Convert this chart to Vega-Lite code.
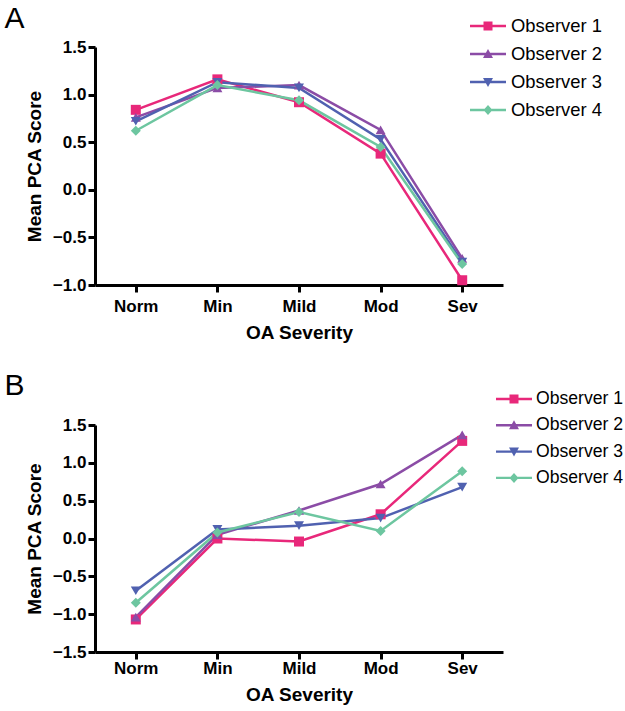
{
  "$schema": "https://vega.github.io/schema/vega-lite/v6.json",
  "padding": {"left": 4, "top": 4, "right": 0, "bottom": 5},
  "background": "white",
  "config": {
    "view": {"stroke": null},
    "font": "Liberation Sans",
    "axis": {"domainColor": "black", "domainWidth": 3, "tickColor": "black", "tickWidth": 3, "tickSize": 7, "labelColor": "black", "labelFont": "Liberation Sans", "labelFontWeight": "bold", "labelFontSize": 17, "titleFont": "Liberation Sans", "titleFontSize": 19, "titleFontWeight": "bold", "titleColor": "black", "grid": false},
    "legend": {"orient": "none", "labelFont": "Liberation Sans", "labelColor": "black", "symbolSize": 400, "symbolStrokeWidth": 0, "padding": 0},
    "title": {"fontSize": 30, "fontWeight": "normal", "anchor": "start", "frame": "bounds", "color": "black", "font": "Liberation Sans"}
  },
  "datasets": {
    "a": [
      {"severity": "Norm", "observer": "Observer 1", "score": 0.84},
      {"severity": "Norm", "observer": "Observer 2", "score": 0.76},
      {"severity": "Norm", "observer": "Observer 3", "score": 0.72},
      {"severity": "Norm", "observer": "Observer 4", "score": 0.62},
      {"severity": "Min", "observer": "Observer 1", "score": 1.16},
      {"severity": "Min", "observer": "Observer 2", "score": 1.07},
      {"severity": "Min", "observer": "Observer 3", "score": 1.13},
      {"severity": "Min", "observer": "Observer 4", "score": 1.10},
      {"severity": "Mild", "observer": "Observer 1", "score": 0.92},
      {"severity": "Mild", "observer": "Observer 2", "score": 1.10},
      {"severity": "Mild", "observer": "Observer 3", "score": 1.07},
      {"severity": "Mild", "observer": "Observer 4", "score": 0.94},
      {"severity": "Mod", "observer": "Observer 1", "score": 0.38},
      {"severity": "Mod", "observer": "Observer 2", "score": 0.63},
      {"severity": "Mod", "observer": "Observer 3", "score": 0.53},
      {"severity": "Mod", "observer": "Observer 4", "score": 0.45},
      {"severity": "Sev", "observer": "Observer 1", "score": -0.95},
      {"severity": "Sev", "observer": "Observer 2", "score": -0.72},
      {"severity": "Sev", "observer": "Observer 3", "score": -0.76},
      {"severity": "Sev", "observer": "Observer 4", "score": -0.78}
    ],
    "b": [
      {"severity": "Norm", "observer": "Observer 1", "score": -1.07},
      {"severity": "Norm", "observer": "Observer 2", "score": -1.04},
      {"severity": "Norm", "observer": "Observer 3", "score": -0.69},
      {"severity": "Norm", "observer": "Observer 4", "score": -0.85},
      {"severity": "Min", "observer": "Observer 1", "score": 0.0},
      {"severity": "Min", "observer": "Observer 2", "score": 0.05},
      {"severity": "Min", "observer": "Observer 3", "score": 0.12},
      {"severity": "Min", "observer": "Observer 4", "score": 0.08},
      {"severity": "Mild", "observer": "Observer 1", "score": -0.04},
      {"severity": "Mild", "observer": "Observer 2", "score": 0.37},
      {"severity": "Mild", "observer": "Observer 3", "score": 0.17},
      {"severity": "Mild", "observer": "Observer 4", "score": 0.35},
      {"severity": "Mod", "observer": "Observer 1", "score": 0.32},
      {"severity": "Mod", "observer": "Observer 2", "score": 0.72},
      {"severity": "Mod", "observer": "Observer 3", "score": 0.27},
      {"severity": "Mod", "observer": "Observer 4", "score": 0.10},
      {"severity": "Sev", "observer": "Observer 1", "score": 1.29},
      {"severity": "Sev", "observer": "Observer 2", "score": 1.37},
      {"severity": "Sev", "observer": "Observer 3", "score": 0.68},
      {"severity": "Sev", "observer": "Observer 4", "score": 0.89}
    ]
  },
  "spacing": 29,
  "resolve": {"scale": {"color": "independent", "shape": "independent"}, "legend": {"color": "independent", "shape": "independent"}},
  "vconcat": [
    {
      "title": {"text": "A", "dx": -21, "offset": -18},
      "width": 408,
      "height": 238,
      "data": {"name": "a"},
      "encoding": {
        "x": {"field": "severity", "type": "ordinal", "sort": ["Norm", "Min", "Mild", "Mod", "Sev"], "scale": {"type": "point", "padding": 0.5}, "axis": {"title": "OA Severity", "labelAngle": 0, "labelPadding": 6, "titlePadding": 9}},
        "y": {"field": "score", "type": "quantitative", "scale": {"domain": [-1, 1.5], "nice": false, "zero": false}, "axis": {"title": "Mean PCA Score", "values": [-1, -0.5, 0, 0.5, 1, 1.5], "format": ".1f", "labelPadding": 2, "titlePadding": 8}},
        "color": {"field": "observer", "type": "nominal", "scale": {"domain": ["Observer 1", "Observer 2", "Observer 3", "Observer 4"], "range": ["#E8287A", "#8B4CA6", "#5061B0", "#6DC6A0"]}, "legend": null}
      },
      "layer": [
        {
          "transform": [{"filter": "false"}],
          "mark": {"type": "point", "filled": true, "opacity": 1},
          "encoding": {
            "color": {"field": "observer", "type": "nominal", "legend": {"title": null, "legendX": 383, "legendY": -31, "labelOffset": 13, "rowPadding": 8, "labelFontSize": 18.4}},
            "shape": {"field": "observer", "type": "nominal", "scale": {"domain": ["Observer 1", "Observer 2", "Observer 3", "Observer 4"], "range": [
              "M-1.8,-0.12L1.8,-0.12L1.8,0.12L-1.8,0.12Z M-0.45,-0.45L0.45,-0.45L0.45,0.45L-0.45,0.45Z",
              "M-1.8,-0.12L1.8,-0.12L1.8,0.12L-1.8,0.12Z M0,-0.5L0.5,0.4L-0.5,0.4Z",
              "M-1.8,-0.12L1.8,-0.12L1.8,0.12L-1.8,0.12Z M-0.5,-0.4L0.5,-0.4L0,0.5Z",
              "M-1.8,-0.12L1.8,-0.12L1.8,0.12L-1.8,0.12Z M0,-0.5L0.45,0L0,0.5L-0.45,0Z"
            ]}, "legend": {"title": null, "legendX": 383, "legendY": -31, "labelOffset": 13, "rowPadding": 8, "labelFontSize": 18.4}}
          }
        },
        {"mark": {"type": "line", "strokeWidth": 2.5}},
        {"transform": [{"filter": "datum.observer === 'Observer 1'"}], "mark": {"type": "point", "filled": true, "opacity": 1, "size": 100, "shape": "square"}},
        {"transform": [{"filter": "datum.observer === 'Observer 2'"}], "mark": {"type": "point", "filled": true, "opacity": 1, "size": 100, "shape": "triangle-up"}},
        {"transform": [{"filter": "datum.observer === 'Observer 3'"}], "mark": {"type": "point", "filled": true, "opacity": 1, "size": 100, "shape": "triangle-down"}},
        {"transform": [{"filter": "datum.observer === 'Observer 4'"}], "mark": {"type": "point", "filled": true, "opacity": 1, "size": 100, "shape": "diamond"}}
      ]
    },
    {
      "title": {"text": "B", "dx": -21, "offset": -12},
      "width": 408,
      "height": 227,
      "data": {"name": "b"},
      "encoding": {
        "x": {"field": "severity", "type": "ordinal", "sort": ["Norm", "Min", "Mild", "Mod", "Sev"], "scale": {"type": "point", "padding": 0.5}, "axis": {"title": "OA Severity", "labelAngle": 0, "labelPadding": 1, "titlePadding": 9}},
        "y": {"field": "score", "type": "quantitative", "scale": {"domain": [-1.5, 1.5], "nice": false, "zero": false}, "axis": {"title": "Mean PCA Score", "values": [-1.5, -1, -0.5, 0, 0.5, 1, 1.5], "format": ".1f", "labelPadding": 2, "titlePadding": 8}},
        "color": {"field": "observer", "type": "nominal", "scale": {"domain": ["Observer 1", "Observer 2", "Observer 3", "Observer 4"], "range": ["#E8287A", "#8B4CA6", "#5061B0", "#6DC6A0"]}, "legend": null}
      },
      "layer": [
        {
          "transform": [{"filter": "false"}],
          "mark": {"type": "point", "filled": true, "opacity": 1},
          "encoding": {
            "color": {"field": "observer", "type": "nominal", "legend": {"title": null, "legendX": 409, "legendY": -36, "labelOffset": 12, "rowPadding": 7.3, "labelFontSize": 17.6}},
            "shape": {"field": "observer", "type": "nominal", "scale": {"domain": ["Observer 1", "Observer 2", "Observer 3", "Observer 4"], "range": [
              "M-1.8,-0.12L1.8,-0.12L1.8,0.12L-1.8,0.12Z M-0.45,-0.45L0.45,-0.45L0.45,0.45L-0.45,0.45Z",
              "M-1.8,-0.12L1.8,-0.12L1.8,0.12L-1.8,0.12Z M0,-0.5L0.5,0.4L-0.5,0.4Z",
              "M-1.8,-0.12L1.8,-0.12L1.8,0.12L-1.8,0.12Z M-0.5,-0.4L0.5,-0.4L0,0.5Z",
              "M-1.8,-0.12L1.8,-0.12L1.8,0.12L-1.8,0.12Z M0,-0.5L0.45,0L0,0.5L-0.45,0Z"
            ]}, "legend": {"title": null, "legendX": 409, "legendY": -36, "labelOffset": 12, "rowPadding": 7.3, "labelFontSize": 17.6}}
          }
        },
        {"mark": {"type": "line", "strokeWidth": 2.5}},
        {"transform": [{"filter": "datum.observer === 'Observer 1'"}], "mark": {"type": "point", "filled": true, "opacity": 1, "size": 100, "shape": "square"}},
        {"transform": [{"filter": "datum.observer === 'Observer 2'"}], "mark": {"type": "point", "filled": true, "opacity": 1, "size": 100, "shape": "triangle-up"}},
        {"transform": [{"filter": "datum.observer === 'Observer 3'"}], "mark": {"type": "point", "filled": true, "opacity": 1, "size": 100, "shape": "triangle-down"}},
        {"transform": [{"filter": "datum.observer === 'Observer 4'"}], "mark": {"type": "point", "filled": true, "opacity": 1, "size": 100, "shape": "diamond"}}
      ]
    }
  ]
}
